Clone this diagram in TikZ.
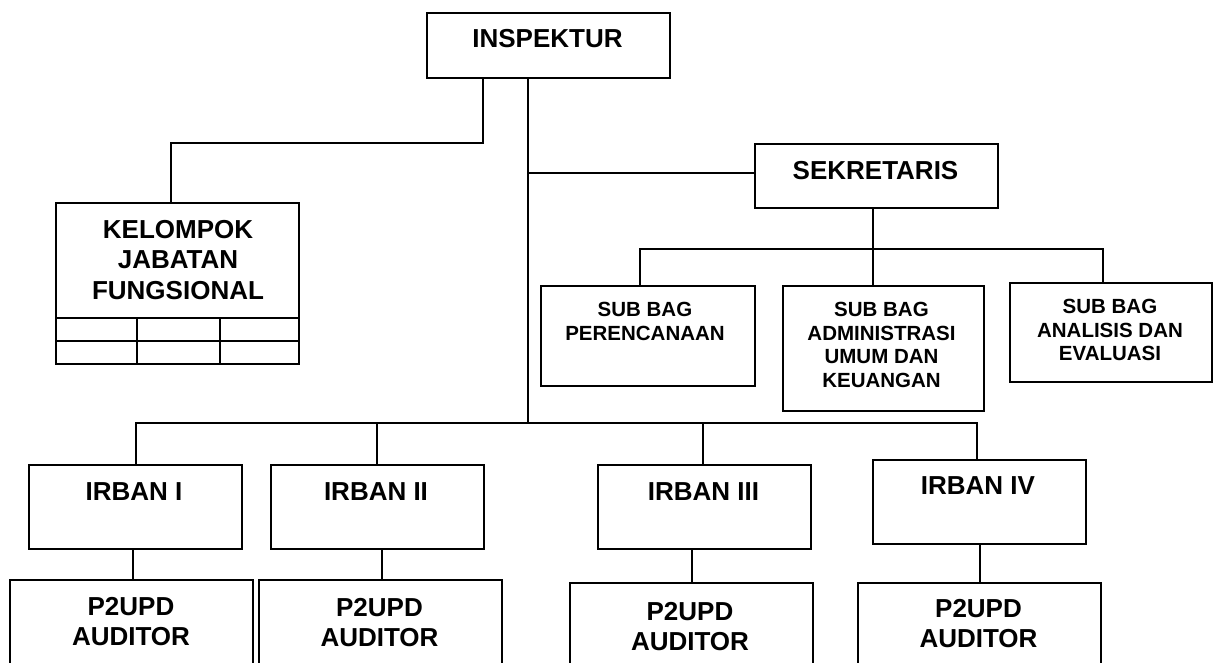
\documentclass[tikz,border=0pt]{standalone}
\usepackage{fontspec}
\setmainfont{Liberation Sans}
\begin{document}
\begin{tikzpicture}[x=1pt,y=-1pt,
  box/.style={draw, line width=1.8pt, inner sep=0pt, anchor=north west},
  big/.style={font=\fontsize{26}{30.5}\selectfont\bfseries, align=center, inner sep=0pt, anchor=north},
  small/.style={font=\fontsize{20.5}{23.5}\selectfont\bfseries, align=center, inner sep=0pt, anchor=north},
  conn/.style={line width=1.5pt},
  grid/.style={line width=1.8pt}]
\useasboundingbox (0,0) rectangle (1219,662);
\clip (0,0) rectangle (1219,662);

% boxes
\node[box, minimum width=243pt, minimum height=65pt] (insp) at (426,12) {};
\node[box, minimum width=243pt, minimum height=64pt] (sek) at (754,143) {};
\node[box, minimum width=243pt, minimum height=161pt] (kjf) at (55,202) {};
\node[box, minimum width=214pt, minimum height=100pt] (sb1) at (540,285) {};
\node[box, minimum width=201pt, minimum height=125pt] (sb2) at (782,285) {};
\node[box, minimum width=202pt, minimum height=99pt] (sb3) at (1009,282) {};
\node[box, minimum width=213pt, minimum height=84pt] (ir1) at (28,464) {};
\node[box, minimum width=213pt, minimum height=84pt] (ir2) at (270,464) {};
\node[box, minimum width=213pt, minimum height=84pt] (ir3) at (597,464) {};
\node[box, minimum width=213pt, minimum height=84pt] (ir4) at (872,459) {};
\node[box, minimum width=243pt, minimum height=100pt] (au1) at (9,579) {};
\node[box, minimum width=243pt, minimum height=100pt] (au2) at (258,579) {};
\node[box, minimum width=243pt, minimum height=100pt] (au3) at (569,582) {};
\node[box, minimum width=243pt, minimum height=100pt] (au4) at (857,582) {};

% texts
\node[big] (tinsp) at (547.5,29) {INSPEKTUR};
\node[big] (tsek) at (875.5,161) {SEKRETARIS};
\node[big] (tkjf) at (178,220) {KELOMPOK\\JABATAN\\FUNGSIONAL};
\node[small] (tsb1) at (645,302) {SUB BAG\\PERENCANAAN};
\node[small] (tsb2) at (881.5,302) {SUB BAG\\ADMINISTRASI\\UMUM DAN\\KEUANGAN};
\node[small] (tsb3) at (1110,299) {SUB BAG\\ANALISIS DAN\\EVALUASI};
\node[big] (tir1) at (134,482) {IRBAN I};
\node[big] (tir2) at (376,482) {IRBAN II};
\node[big] (tir3) at (703.5,482) {IRBAN III};
\node[big] (tir4) at (978,476) {IRBAN IV};
\node[big] (tau1) at (131,597) {P2UPD\\AUDITOR};
\node[big] (tau2) at (379.5,598) {P2UPD\\AUDITOR};
\node[big] (tau3) at (690,602) {P2UPD\\AUDITOR};
\node[big] (tau4) at (978.5,599) {P2UPD\\AUDITOR};

% grid in KJF box
\coordinate (r1) at (0,318);
\coordinate (r2) at (0,341);
\coordinate (v1) at (137,0);
\coordinate (v2) at (220,0);
\draw[grid] (kjf.west |- r1) -- (kjf.east |- r1);
\draw[grid] (kjf.west |- r2) -- (kjf.east |- r2);
\draw[grid] (v1 |- r1) -- (v1 |- kjf.south);
\draw[grid] (v2 |- r1) -- (v2 |- kjf.south);

% connectors
\coordinate (j1) at (483,143);
\coordinate (j2) at (171,143);
\draw[conn] (insp.south -| j1) -- (j1) -- (j2) -- (kjf.north -| j2);

\coordinate (trunk) at (528,423);
\draw[conn] (insp.south -| trunk) -- (trunk);
\coordinate (j3) at (528,173);
\draw[conn] (j3) -- (sek.west |- j3);

\coordinate (j4) at (873,249);
\coordinate (j5) at (640,249);
\coordinate (j6) at (1103,249);
\draw[conn] (sek.south -| j4) -- (j4);
\draw[conn] (sb1.north -| j5) -- (j5) -- (j6) -- (sb3.north -| j6);
\draw[conn] (j4) -- (sb2.north -| j4);

\coordinate (k1) at (136,423);
\coordinate (k2) at (377,423);
\coordinate (k3) at (703,423);
\coordinate (k4) at (977,423);
\draw[conn] (ir1.north -| k1) -- (k1) -- (k4) -- (ir4.north -| k4);
\draw[conn] (k2) -- (ir2.north -| k2);
\draw[conn] (k3) -- (ir3.north -| k3);

\coordinate (m1) at (133,560);
\coordinate (m2) at (382,560);
\coordinate (m3) at (692,560);
\coordinate (m4) at (980,560);
\draw[conn] (ir1.south -| m1) -- (au1.north -| m1);
\draw[conn] (ir2.south -| m2) -- (au2.north -| m2);
\draw[conn] (ir3.south -| m3) -- (au3.north -| m3);
\draw[conn] (ir4.south -| m4) -- (au4.north -| m4);
\end{tikzpicture}
\end{document}
